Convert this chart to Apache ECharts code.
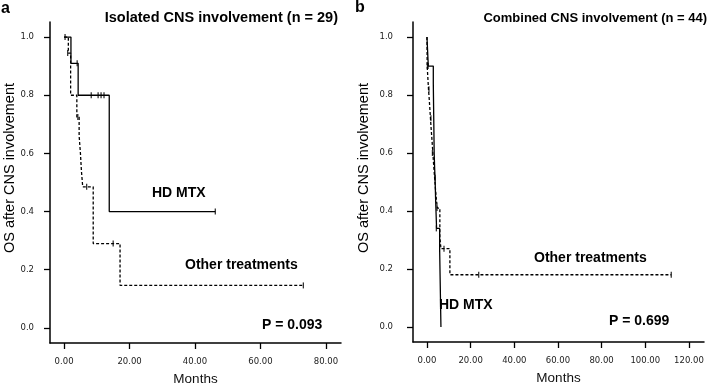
<!DOCTYPE html>
<html>
<head>
<meta charset="utf-8">
<script src="https://cdn.jsdelivr.net/npm/echarts@6/dist/echarts.min.js"></script>
<style>
  html, body { margin: 0; padding: 0; background: #fff; }
  #km-chart { width: 708px; height: 386px; }
</style>
</head>
<body>
<div id="km-chart"></div>
<script>
// panel a - isolated CNS involvement
var hdA_t = [0, 2.1, 4.3, 13.8, 46.2];
var hdA_s = [1.0, 0.91, 0.80, 0.40, 0.40];
var hdA_ct = [4.0, 8.3, 10.4, 11.3, 12.2, 46.2];
var hdA_cs = [0.91, 0.80, 0.80, 0.80, 0.80, 0.40];

var otA_t = [0, 1.3, 2.0, 3.9, 4.6, 5.0, 5.3, 5.7, 8.9, 17.1, 73.1];
var otA_s = [1.0, 0.945, 0.80, 0.725, 0.66, 0.60, 0.54, 0.485, 0.29, 0.146, 0.146];
var otA_ct = [0.3, 1.1, 4.2, 6.9, 15.0, 73.1];
var otA_cs = [1.0, 0.945, 0.725, 0.485, 0.29, 0.146];

// panel b - combined CNS involvement
var hdB_t = [0, 0.6, 2.9, 3.0, 3.1, 3.2, 3.3, 3.5, 3.7, 4.0, 4.4, 5.8, 6.4];
var hdB_s = [1.0, 0.90, 0.84, 0.78, 0.72, 0.66, 0.60, 0.55, 0.515, 0.43, 0.34, 0.27, 0.0];
var hdB_ct = [0.5, 3.7, 4.3];
var hdB_cs = [0.90, 0.515, 0.34];

var otB_t = [0, 0.1, 0.4, 0.7, 1.0, 1.3, 1.6, 1.9, 2.3, 2.7, 3.1, 3.5, 3.9, 4.3, 4.8, 5.9, 6.4, 10.5, 111.9];
var otB_s = [1.0, 0.90, 0.86, 0.82, 0.79, 0.755, 0.72, 0.685, 0.645, 0.60, 0.555, 0.515, 0.475, 0.44, 0.41, 0.31, 0.27, 0.18, 0.18];
var otB_ct = [0.2, 0.9, 1.8, 2.5, 4.6, 7.8, 23.7, 111.9];
var otB_cs = [0.90, 0.82, 0.72, 0.60, 0.41, 0.27, 0.18, 0.18];

var yTicks = [0, 0.2, 0.4, 0.6, 0.8, 1.0];
var xTicksA = [0, 20, 40, 60, 80];
var xTicksB = [0, 20, 40, 60, 80, 100, 120];

var FONT = "Liberation Sans";

function pairs(t, s) {
  return t.map(function (v, i) { return [v, s[i]]; });
}

function xAxisOf(idx, min, max, ticks) {
  return {
    type: "value", gridIndex: idx, min: min, max: max,
    name: "Months", nameLocation: "middle", nameGap: 29,
    nameTextStyle: { fontFamily: FONT, fontSize: 13.5, color: "#111" },
    axisLine: { onZero: false, lineStyle: { color: "#000", width: 1.5 } },
    axisTick: { customValues: ticks, length: 6, lineStyle: { color: "#000", width: 1.3 } },
    axisLabel: {
      customValues: ticks, fontFamily: "DejaVu Sans", fontSize: 8.5, color: "#222", margin: 14,
      formatter: function (v) { return v.toFixed(2); }
    },
    splitLine: { show: false }
  };
}

function yAxisOf(idx, gap) {
  return {
    type: "value", gridIndex: idx, min: -0.052, max: 1.052,
    axisLine: { show: true, onZero: false, lineStyle: { color: "#000", width: 1.5 } },
    axisTick: { show: true, customValues: yTicks, length: 6, lineStyle: { color: "#000", width: 1.3 } },
    axisLabel: {
      customValues: yTicks, fontFamily: "DejaVu Sans", fontSize: 8.5, color: "#222", margin: gap,
      formatter: function (v) { return v.toFixed(1); }
    },
    splitLine: { show: false }
  };
}

function curve(idx, t, s, dashed) {
  return {
    type: "line", xAxisIndex: idx, yAxisIndex: idx, step: "end",
    data: pairs(t, s), symbol: "none", silent: true,
    lineStyle: { color: "#000", width: 1.3, type: dashed ? [3, 2] : "solid" }
  };
}

function censors(idx, t, s) {
  return {
    type: "scatter", xAxisIndex: idx, yAxisIndex: idx,
    data: pairs(t, s), symbol: "rect", symbolSize: [1.3, 6],
    itemStyle: { color: "#000" }, silent: true
  };
}

function label(x, y, text, size, align, weight, rot) {
  return {
    type: "text", x: x, y: y, rotation: rot || 0,
    style: {
      text: text, fontFamily: FONT, fontSize: size, fontWeight: weight || "bold", fill: "#000",
      align: align || "left", verticalAlign: "middle"
    }
  };
}

var chart = echarts.init(document.getElementById("km-chart"));
chart.setOption({
  animation: false,
  grid: [
    { left: 50, top: 22, width: 291, height: 321, outerBoundsMode: "none" },
    { left: 413, top: 22, width: 291, height: 320, outerBoundsMode: "none" }
  ],
  xAxis: [xAxisOf(0, -4.3, 84.6, xTicksA), xAxisOf(1, -6.4, 126.9, xTicksB)],
  yAxis: [yAxisOf(0, 16), yAxisOf(1, 20)],
  series: [
    curve(0, hdA_t, hdA_s, false),
    curve(0, otA_t, otA_s, true),
    censors(0, hdA_ct, hdA_cs),
    censors(0, otA_ct, otA_cs),
    curve(1, hdB_t, hdB_s, false),
    curve(1, otB_t, otB_s, true),
    censors(1, hdB_ct, hdB_cs),
    censors(1, otB_ct, otB_cs)
  ],
  graphic: [
    label(1, 9, "a", 16),
    label(355, 8, "b", 16),
    label(338, 18, "Isolated CNS involvement (n = 29)", 14.5, "right"),
    label(707, 18, "Combined CNS involvement (n = 44)", 13, "right"),
    label(10, 168, "OS after CNS involvement", 14.5, "center", "normal", Math.PI / 2),
    label(364, 168, "OS after CNS involvement", 14.5, "center", "normal", Math.PI / 2),
    label(152, 193, "HD MTX", 14),
    label(185, 265, "Other treatments", 14),
    label(262, 325, "P = 0.093", 14),
    label(534, 258, "Other treatments", 14),
    label(439, 305, "HD MTX", 14),
    label(609, 321, "P = 0.699", 14)
  ]
});
window.addEventListener("resize", function () {
  chart.resize();
});
</script>
</body>
</html>
